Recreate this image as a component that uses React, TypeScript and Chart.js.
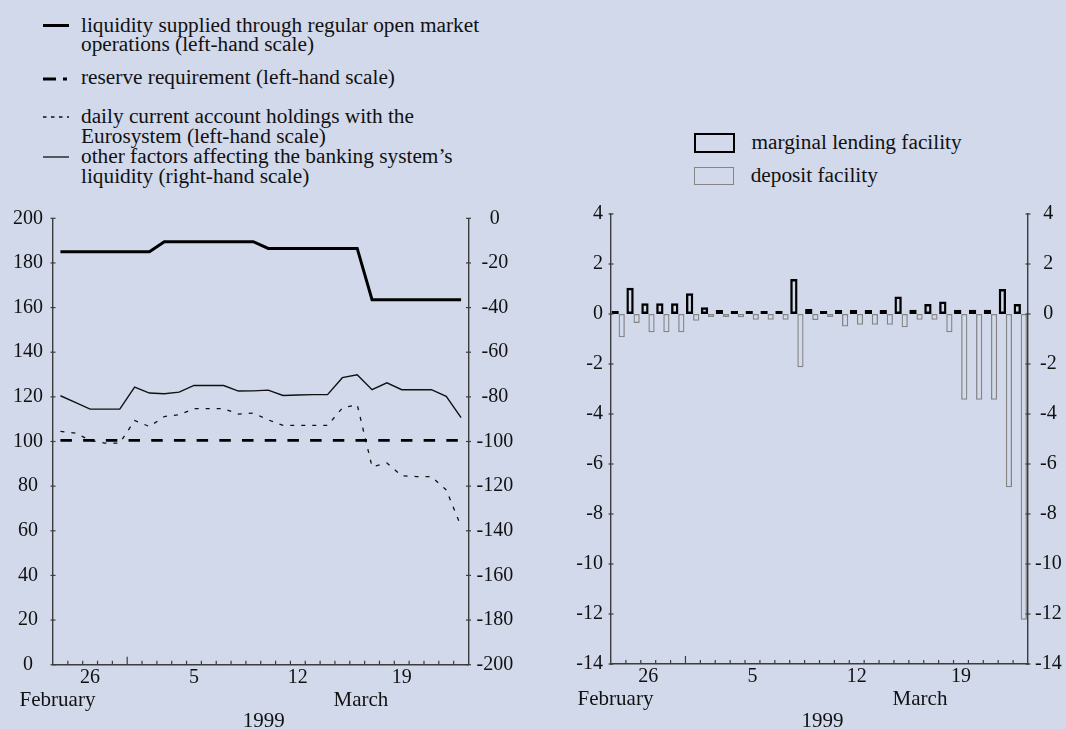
import React, { useEffect, useRef } from "react";
import { Chart, registerables } from "chart.js";

Chart.register(...registerables);

const BG = "#d2d9eb";
const FONT = "'Liberation Serif', 'Times New Roman', serif";
const INK = "#111111";
const AXIS = "#3c3c3c";

// 24 Feb 1999 .. 23 Mar 1999 (one entry per day)
const days = [
  "24 Feb", "25 Feb", "26 Feb", "27 Feb", "28 Feb",
  "1 Mar", "2 Mar", "3 Mar", "4 Mar", "5 Mar", "6 Mar", "7 Mar", "8 Mar", "9 Mar",
  "10 Mar", "11 Mar", "12 Mar", "13 Mar", "14 Mar", "15 Mar", "16 Mar", "17 Mar",
  "18 Mar", "19 Mar", "20 Mar", "21 Mar", "22 Mar", "23 Mar",
];
const tickDays = ["26 Feb", "5 Mar", "12 Mar", "19 Mar"];
const tickText = ["26", "5", "12", "19"];
const monthStart = "1 Mar";

// Left chart (EUR billions)
const openMarketOps = [
  185, 185, 185, 185, 185, 185, 185,
  189.5, 189.5, 189.5, 189.5, 189.5, 189.5, 189.5,
  186.5, 186.5, 186.5, 186.5, 186.5, 186.5, 186.5,
  163.5, 163.5, 163.5, 163.5, 163.5, 163.5, 163.5,
];
const reserveReq = [
  100.5, 100.5, 100.5, 100.5, 100.5, 100.5, 100.5, 100.5, 100.5, 100.5,
  100.5, 100.5, 100.5, 100.5, 100.5, 100.5, 100.5, 100.5, 100.5, 100.5,
  100.5, 100.5, 100.5, 100.5, 100.5, 100.5, 100.5, 100.5,
];
const currentAccounts = [
  104.5, 103.8, 100.5, 99.3, 99.3, 109.4, 106.7, 111.2, 112, 114.7,
  114.7, 114.7, 112.3, 112.7, 109.7, 107.2, 107.2, 107.2, 107.2, 115,
  116.5, 88.7, 90.4, 84.6, 84.3, 84.3, 78.3, 62,
];
const otherFactors = [
  -79.5, -82.5, -85.5, -85.5, -85.5, -75.6, -78.3, -78.6, -77.9, -74.9,
  -74.9, -74.9, -77.4, -77.3, -77, -79.4, -79.2, -79, -79, -71.4,
  -70.1, -76.8, -73.7, -76.8, -76.8, -76.8, -79.8, -89.3,
];

// Right chart (EUR billions)
const marginalLending = [
  0.1, 1.05, 0.43, 0.43, 0.43, 0.83, 0.27, 0.16, 0.05, 0.1,
  0.1, 0.1, 1.4, 0.2, 0.05, 0.16, 0.16, 0.16, 0.16, 0.7,
  0.17, 0.4, 0.5, 0.17, 0.17, 0.17, 1.0, 0.4,
];
const depositFacility = [
  -0.93, -0.36, -0.73, -0.73, -0.73, -0.27, -0.1, -0.07, -0.13, -0.23,
  -0.23, -0.23, -2.13, -0.24, -0.04, -0.5, -0.43, -0.43, -0.43, -0.53,
  -0.23, -0.23, -0.73, -3.43, -3.43, -3.43, -6.93, -12.23,
];

const xTickCallback = (_v: any, i: number) => {
  const k = tickDays.indexOf(days[i]);
  return k >= 0 ? tickText[k] : "";
};

const makeDecor = (yIds: string[]) => ({
  id: "decor",
  afterDraw(chart: any) {
    const ctx = chart.ctx as CanvasRenderingContext2D;
    const { left, right, bottom } = chart.chartArea;
    const xs = chart.scales.x;
    const seg = (x1: number, y1: number, x2: number, y2: number) => {
      ctx.beginPath();
      ctx.moveTo(x1, y1);
      ctx.lineTo(x2, y2);
      ctx.stroke();
    };
    ctx.save();
    ctx.strokeStyle = AXIS;
    ctx.lineWidth = 1.2;
    for (let i = 1; i < days.length; i++) {
      const p = (xs.getPixelForValue(i - 1) + xs.getPixelForValue(i)) / 2;
      const h = days[i] === monthStart ? 8 : 4;
      seg(p, bottom, p, bottom - h);
    }
    for (const id of yIds) {
      const s = chart.scales[id];
      const x = s.position === "left" ? left : right;
      s.ticks.forEach((t: any) => {
        const p = s.getPixelForValue(t.value);
        seg(x - 2.5, p, x + 2.5, p);
      });
    }
    ctx.fillStyle = INK;
    ctx.font = `21px ${FONT}`;
    ctx.textAlign = "center";
    ctx.textBaseline = "alphabetic";
    const w = right - left;
    ctx.fillText("February", left + 4.5, bottom + 41);
    ctx.fillText("March", left + 0.741 * w, bottom + 41);
    ctx.fillText("1999", left + w / 2 + 3, bottom + 62.5);
    ctx.restore();
  },
});

const tickFont = { family: FONT, size: 20, lineHeight: 1 };
const noGrid = { display: false, drawTicks: false, drawOnChartArea: false };

export default function App() {
  const ref1 = useRef<HTMLCanvasElement>(null);
  const ref2 = useRef<HTMLCanvasElement>(null);

  useEffect(() => {
    Chart.defaults.font.family = FONT;
    Chart.defaults.color = INK;

    const c1 = new Chart(ref1.current!, {
      type: "line",
      data: {
        labels: days,
        datasets: [
          {
            label: "liquidity supplied through regular open market operations",
            data: openMarketOps,
            yAxisID: "y",
            borderColor: "#000",
            borderWidth: 3,
            pointRadius: 0,
            tension: 0,
          },
          {
            label: "reserve requirement",
            data: reserveReq,
            yAxisID: "y",
            borderColor: "#000",
            borderWidth: 2.8,
            borderDash: [11.5, 11.2],
            pointRadius: 0,
          },
          {
            label: "daily current account holdings with the Eurosystem",
            data: currentAccounts,
            yAxisID: "y",
            borderColor: "#111",
            borderWidth: 1.3,
            borderDash: [4, 7],
            pointRadius: 0,
            tension: 0,
          },
          {
            label: "other factors affecting the banking system's liquidity",
            data: otherFactors,
            yAxisID: "yR",
            borderColor: "#111",
            borderWidth: 1.4,
            pointRadius: 0,
            tension: 0,
          },
        ],
      },
      options: {
        animation: false,
        responsive: false,
        layout: { padding: { top: 23.3, left: 0, right: 0, bottom: 0 } },
        plugins: { legend: { display: false }, tooltip: { enabled: false } },
        scales: {
          x: {
            type: "category",
            offset: true,
            grid: noGrid,
            border: { display: true, color: AXIS, width: 1.4 },
            ticks: {
              autoSkip: false,
              maxRotation: 0,
              padding: 3,
              font: tickFont,
              color: INK,
              callback: xTickCallback,
            },
            afterFit: (s: any) => { s.height = 64.3; },
          },
          y: {
            position: "left",
            min: 0,
            max: 200,
            grid: noGrid,
            border: { display: true, color: AXIS, width: 1.4 },
            ticks: { stepSize: 20, padding: 10, crossAlign: "center", font: tickFont, color: INK },
            afterFit: (s: any) => { s.width = 53; },
          },
          yR: {
            position: "right",
            display: true,
            min: -200,
            max: 0,
            grid: noGrid,
            border: { display: true, color: AXIS, width: 1.4 },
            ticks: { stepSize: 20, padding: 8, crossAlign: "center", font: tickFont, color: INK },
            afterFit: (s: any) => { s.width = 64.5; },
          },
        },
      } as any,
      plugins: [makeDecor(["y", "yR"])],
    });

    const c2 = new Chart(ref2.current!, {
      type: "bar",
      data: {
        labels: days,
        datasets: [
          {
            label: "marginal lending facility",
            data: marginalLending,
            yAxisID: "y",
            backgroundColor: "rgba(0,0,0,0)",
            borderColor: "#000",
            borderWidth: 2.4,
            borderSkipped: false,
            categoryPercentage: 0.88,
            barPercentage: 1.12,
            minBarLength: 3,
          },
          {
            label: "deposit facility",
            data: depositFacility,
            yAxisID: "y",
            backgroundColor: "rgba(0,0,0,0)",
            borderColor: "#858585",
            borderWidth: 1.3,
            borderSkipped: false,
            categoryPercentage: 0.88,
            barPercentage: 0.95,
            minBarLength: 3,
          },
        ],
      },
      options: {
        animation: false,
        responsive: false,
        layout: { padding: { top: 19, left: 0, right: 0, bottom: 0 } },
        plugins: { legend: { display: false }, tooltip: { enabled: false } },
        scales: {
          x: {
            type: "category",
            offset: true,
            grid: noGrid,
            border: { display: true, color: AXIS, width: 1.4 },
            ticks: {
              autoSkip: false,
              maxRotation: 0,
              padding: 3,
              font: tickFont,
              color: INK,
              callback: xTickCallback,
            },
            afterFit: (s: any) => { s.height = 65; },
          },
          y: {
            position: "left",
            min: -14,
            max: 4,
            grid: noGrid,
            border: { display: true, color: AXIS, width: 1.4 },
            ticks: { stepSize: 2, padding: 8, crossAlign: "near", font: tickFont, color: INK },
            afterFit: (s: any) => { s.width = 78; },
          },
          yR: {
            position: "right",
            display: true,
            min: -14,
            max: 4,
            grid: noGrid,
            border: { display: true, color: AXIS, width: 1.4 },
            ticks: { stepSize: 2, padding: 7, crossAlign: "center", font: tickFont, color: INK },
            afterFit: (s: any) => { s.width = 38; },
          },
        },
      } as any,
      plugins: [makeDecor(["y", "yR"])],
    });

    return () => {
      c1.destroy();
      c2.destroy();
    };
  }, []);

  const T = ({ x, b, s = 21.3, children }: { x: number; b: number; s?: number; children: React.ReactNode }) => (
    <div
      style={{
        position: "absolute",
        left: x,
        top: b - 0.8375 * s,
        fontSize: s,
        lineHeight: `${s}px`,
        whiteSpace: "nowrap",
        color: INK,
      }}
    >
      {children}
    </div>
  );

  return (
    <div
      style={{
        position: "absolute",
        left: 0,
        top: 0,
        width: 1066,
        height: 729,
        background: BG,
        fontFamily: FONT,
        overflow: "hidden",
      }}
    >
      <svg width={90} height={200} style={{ position: "absolute", left: 0, top: 0 }}>
        <line x1={43} y1={25.5} x2={69} y2={25.5} stroke="#000" strokeWidth={3} />
        <line x1={43} y1={79} x2={56} y2={79} stroke="#000" strokeWidth={3} />
        <line x1={63} y1={79} x2={67} y2={79} stroke="#000" strokeWidth={3} />
        <line x1={43} y1={117} x2={69} y2={117} stroke="#111" strokeWidth={1.3} strokeDasharray="3.5,4.5" />
        <line x1={43} y1={157} x2={69} y2={157} stroke="#111" strokeWidth={1.3} />
      </svg>
      <T x={81} b={33}>liquidity supplied through regular open market</T>
      <T x={81} b={51.5}>operations (left-hand scale)</T>
      <T x={81} b={85}>reserve requirement (left-hand scale)</T>
      <T x={81} b={123.5}>daily current account holdings with the</T>
      <T x={81} b={143.5}>Eurosystem (left-hand scale)</T>
      <T x={81} b={164}>other factors affecting the banking system’s</T>
      <T x={81} b={184}>liquidity (right-hand scale)</T>

      <div
        style={{
          position: "absolute",
          left: 694,
          top: 133.3,
          width: 41,
          height: 20,
          boxSizing: "border-box",
          border: "2.5px solid #000",
        }}
      />
      <div
        style={{
          position: "absolute",
          left: 694,
          top: 166.7,
          width: 40,
          height: 18.3,
          boxSizing: "border-box",
          border: "1.3px solid #858585",
        }}
      />
      <T x={751.5} b={150}>marginal lending facility</T>
      <T x={750.7} b={182.5}>deposit facility</T>

      <canvas
        ref={ref1}
        width={533}
        height={534}
        style={{ position: "absolute", left: 0, top: 195, width: 533, height: 534 }}
      />
      <canvas
        ref={ref2}
        width={533}
        height={534}
        style={{ position: "absolute", left: 533, top: 195, width: 533, height: 534 }}
      />
    </div>
  );
}
